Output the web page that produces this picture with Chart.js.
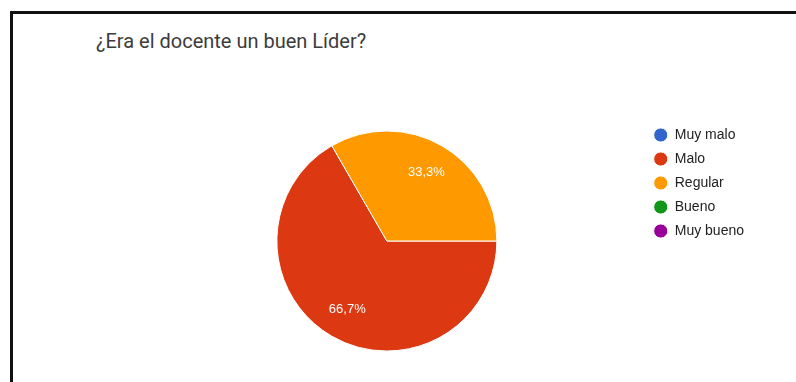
<!DOCTYPE html>
<html lang="es">
<head>
<meta charset="utf-8">
<title>¿Era el docente un buen Líder?</title>
<script src="https://cdn.jsdelivr.net/npm/chart.js@4.4.1/dist/chart.umd.min.js"></script>
<style>
  html, body { margin: 0; padding: 0; background: #ffffff; }
  body { width: 796px; height: 382px; position: relative; overflow: hidden; }
  .frame {
    position: absolute; left: 10px; top: 11px; width: 900px; height: 500px;
    border-left: 3px solid #111; border-top: 3px solid #111; box-sizing: border-box;
  }
  .title {
    position: absolute; left: 96px; top: 29px;
    font-family: Roboto, "Liberation Sans", Arial, sans-serif; font-size: 20px;
    color: #3c3c3c; white-space: nowrap; line-height: 24px;
  }
  .plot { position: absolute; left: 0; top: 0; width: 796px; height: 382px; }
</style>
</head>
<body>
<div class="frame"></div>
<div class="title">¿Era el docente un buen Líder?</div>
<div class="plot"><canvas id="pie" width="796" height="382"></canvas></div>
<script>
// Answer options and response counts
const categories = ['Muy malo', 'Malo', 'Regular', 'Bueno', 'Muy bueno'];
const responses = [0, 2, 1, 0, 0];
const sliceColors = ['#3366cc', '#dc3912', '#ff9900', '#109618', '#990099'];

// Percentage text written inside every non-empty slice
const sliceLabels = {
  id: 'sliceLabels',
  afterDatasetsDraw(chart) {
    const ctx = chart.ctx;
    const meta = chart.getDatasetMeta(0);
    const values = chart.data.datasets[0].data;
    const total = values.reduce((a, b) => a + b, 0);
    ctx.save();
    ctx.font = '13px "Liberation Sans", Arial, sans-serif';
    ctx.fillStyle = '#ffffff';
    ctx.textAlign = 'center';
    ctx.textBaseline = 'middle';
    meta.data.forEach((arc, i) => {
      if (!values[i]) return;
      const p = arc.getProps(['x', 'y', 'startAngle', 'endAngle', 'outerRadius'], true);
      const mid = (p.startAngle + p.endAngle) / 2;
      const r = p.outerRadius * 0.72;
      const text = (values[i] / total * 100).toFixed(1).replace('.', ',') + '%';
      ctx.fillText(text, p.x + Math.cos(mid) * r, p.y + Math.sin(mid) * r);
    });
    ctx.restore();
  }
};

new Chart(document.getElementById('pie'), {
  type: 'pie',
  data: {
    labels: categories,
    datasets: [{
      data: responses,
      backgroundColor: sliceColors,
      borderColor: '#ffffff',
      borderWidth: 1,
      radius: 110
    }]
  },
  options: {
    responsive: false,
    animation: false,
    events: [],
    rotation: 90,
    layout: { padding: { left: 130, right: 42, top: 118, bottom: 18 } },
    plugins: {
      tooltip: { enabled: false },
      legend: {
        position: 'right',
        align: 'start',
        labels: {
          usePointStyle: true,
          pointStyle: 'circle',
          boxWidth: 14,
          boxHeight: 10,
          padding: 10,
          color: '#222',
          font: { family: '"Liberation Sans", Arial, sans-serif', size: 14 }
        }
      }
    }
  },
  plugins: [sliceLabels]
});
</script>
</body>
</html>
